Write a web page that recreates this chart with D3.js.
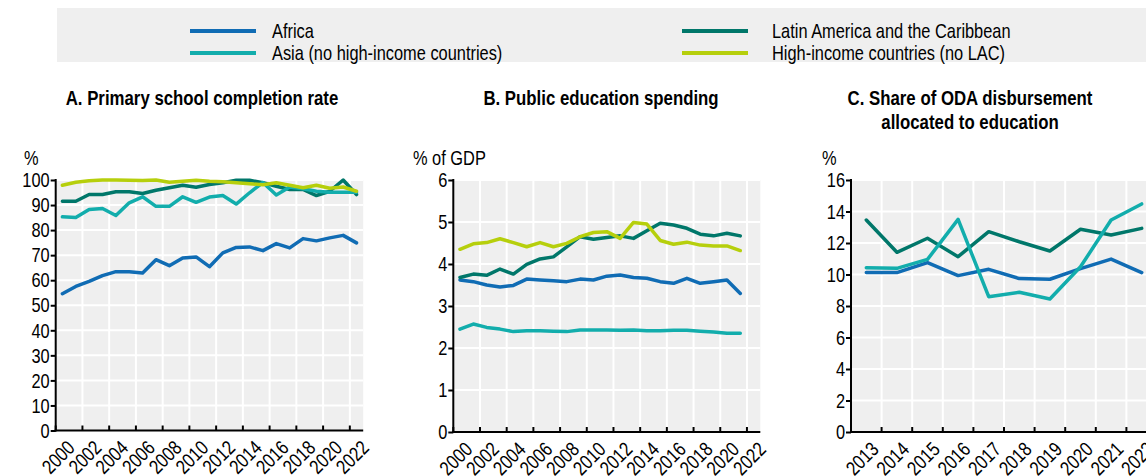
<!DOCTYPE html>
<html>
<head>
<meta charset="utf-8">
<script src="https://cdn.jsdelivr.net/npm/d3@7"></script>
<style>
  html, body { margin: 0; padding: 0; background: #fff; }
  svg { display: block; font-family: "Liberation Sans", Arial, sans-serif; }
</style>
</head>
<body>
<svg id="chart" width="1146" height="476"></svg>
<script>
// ---------- DATA ----------
const yearsAB = [2000,2001,2002,2003,2004,2005,2006,2007,2008,2009,2010,2011,2012,2013,2014,2015,2016,2017,2018,2019,2020,2021,2022];
const yearsB  = [2000,2001,2002,2003,2004,2005,2006,2007,2008,2009,2010,2011,2012,2013,2014,2015,2016,2017,2018,2019,2020,2021];
const yearsC  = [2013,2014,2015,2016,2017,2018,2019,2020,2021,2022];

const tickYearsAB = [2000,2002,2004,2006,2008,2010,2012,2014,2016,2018,2020,2022];
const tickYearsC  = [2013,2014,2015,2016,2017,2018,2019,2020,2021,2022];
const yTicksA = [0,10,20,30,40,50,60,70,80,90,100];
const yTicksB = [0,1,2,3,4,5,6];
const yTicksC = [0,2,4,6,8,10,12,14,16];

// Panel A: primary school completion rate (%)
const africaA = [54.6,57.5,59.5,61.8,63.4,63.4,62.9,68.2,65.8,68.9,69.3,65.4,70.9,73.1,73.3,71.8,74.6,72.9,76.6,75.7,76.9,77.9,74.9];
const asiaA   = [85.3,85.0,88.2,88.6,85.8,90.9,93.3,89.5,89.5,93.3,91.1,93.2,93.8,90.4,94.9,99.0,94.0,97.2,96.5,95.5,95.1,95.1,95.1];
const lacA    = [91.5,91.5,94.2,94.2,95.3,95.3,94.6,95.9,96.9,97.9,97.1,98.2,98.9,99.9,99.9,98.9,97.5,96.2,96.2,93.8,95.5,100.0,94.2];
const hiA     = [97.9,99.1,99.7,100.0,100.0,99.9,99.8,100.0,99.1,99.5,99.9,99.5,99.3,98.9,98.5,98.1,98.9,97.9,96.9,97.9,96.7,97.2,95.5];

// Panel B: public education spending (% of GDP)
const africaB = [3.62,3.58,3.50,3.45,3.49,3.64,3.62,3.60,3.58,3.64,3.62,3.71,3.74,3.68,3.66,3.58,3.54,3.66,3.54,3.58,3.62,3.30];
const asiaB   = [2.45,2.57,2.49,2.45,2.39,2.41,2.41,2.40,2.39,2.43,2.43,2.43,2.42,2.43,2.41,2.41,2.42,2.42,2.40,2.38,2.35,2.35];
const lacB    = [3.68,3.76,3.73,3.88,3.76,3.99,4.12,4.17,4.41,4.65,4.59,4.63,4.67,4.61,4.79,4.97,4.93,4.85,4.71,4.67,4.73,4.67];
const hiB     = [4.35,4.48,4.51,4.60,4.51,4.41,4.51,4.41,4.49,4.65,4.75,4.77,4.61,4.99,4.95,4.56,4.47,4.52,4.45,4.43,4.43,4.32];

// Panel C: share of ODA disbursement allocated to education (%)
const africaC = [10.12,10.12,10.75,9.93,10.33,9.74,9.70,10.37,10.98,10.12];
const asiaC   = [10.43,10.39,10.96,13.50,8.59,8.87,8.44,10.49,13.46,14.48];
const lacC    = [13.46,11.41,12.30,11.13,12.72,12.08,11.49,12.87,12.51,12.93];

const seriesColors = {
  "Africa": "#106cb4",
  "Latin America and the Caribbean": "#00776a",
  "Asia (no high-income countries)": "#12adac",
  "High-income countries (no LAC)": "#b6cf0c"
};

// ---------- CHART ----------
const svg = d3.select("#chart");
const FS = 20;      // condensed look: regular face squeezed horizontally
const FST = 20.5;
const SX = 0.82;

// text helper: condensed text anchored at (x, y), optional rotation
function txt(parent, x, y, str, o = {}) {
  const rot = o.rotate ? ` rotate(${o.rotate})` : "";
  const g = parent.append("g").attr("transform", `translate(${x},${y})${rot} scale(${SX},1)`);
  return g.append("text").attr("x", 0).attr("y", 0)
    .attr("font-size", o.size || FS)
    .attr("font-weight", o.bold ? "bold" : null)
    .attr("text-anchor", o.anchor || "start")
    .attr("dy", o.dy || null)
    .attr("fill", "#000").text(str);
}

// Legend
svg.append("rect").attr("x", 57).attr("y", 8).attr("width", 1146 - 57).attr("height", 54).attr("fill", "#efefef");
const legendItems = [
  {name: "Africa", x: 190, tx: 272, y: 31},
  {name: "Asia (no high-income countries)", x: 190, tx: 272, y: 53},
  {name: "Latin America and the Caribbean", x: 682, tx: 772, y: 31},
  {name: "High-income countries (no LAC)", x: 682, tx: 772, y: 53}
];
legendItems.forEach(it => {
  svg.append("line").attr("x1", it.x).attr("x2", it.x + 66).attr("y1", it.y).attr("y2", it.y)
    .attr("stroke", seriesColors[it.name]).attr("stroke-width", 4);
  txt(svg, it.tx, it.y + 7, it.name);
});

function panel(cfg) {
  const g = svg.append("g");
  const x = d3.scaleBand().domain(cfg.cats).range([cfg.x0, cfg.x1]).padding(0);
  const y = d3.scaleLinear().domain(cfg.ydom).range([cfg.yb, cfg.yt]);
  const bw = x.bandwidth();

  // title
  cfg.title.forEach((t, i) => txt(g, cfg.tx, 105 + i * 24, t, {bold: true, size: FST, anchor: "middle"}));
  // unit
  txt(g, cfg.ux, 165, cfg.unit);

  // background
  g.append("rect").attr("x", cfg.x0).attr("y", cfg.yt).attr("width", cfg.x1 - cfg.x0).attr("height", cfg.yb - cfg.yt).attr("fill", "#efefef");

  // grid
  g.selectAll(".vg").data(cfg.xticks.filter(d => d !== cfg.cats[0])).enter().append("line")
    .attr("x1", d => x(d)).attr("x2", d => x(d)).attr("y1", cfg.yt).attr("y2", cfg.yb)
    .attr("stroke", "#fff").attr("stroke-width", 2);
  g.selectAll(".hg").data(cfg.yticks.filter(d => d !== cfg.ydom[0])).enter().append("line")
    .attr("x1", cfg.x0).attr("x2", cfg.x1).attr("y1", d => y(d)).attr("y2", d => y(d))
    .attr("stroke", "#fff").attr("stroke-width", 2);

  // y axis (ticks via d3 axis, labels condensed)
  const ya = d3.axisLeft(y).tickValues(cfg.yticks).tickSize(5).tickFormat("");
  const yg = g.append("g").attr("transform", `translate(${cfg.x0},0)`).call(ya);
  yg.select(".domain").remove();
  yg.selectAll(".tick line").attr("stroke", "#000").attr("stroke-width", 2);
  cfg.yticks.forEach(v => txt(g, cfg.x0 - 6, y(v), d3.format("d")(v), {anchor: "end", dy: "0.36em"}));
  g.append("line").attr("x1", cfg.x0).attr("x2", cfg.x0).attr("y1", cfg.yt - 1).attr("y2", cfg.yb + 1)
    .attr("stroke", "#000").attr("stroke-width", 2);

  // x axis ticks (inward) and axis line
  g.selectAll(".xt").data(cfg.xticks).enter().append("line")
    .attr("x1", d => x(d)).attr("x2", d => x(d)).attr("y1", cfg.yb).attr("y2", cfg.yb - 5)
    .attr("stroke", "#000").attr("stroke-width", 2);
  g.append("line").attr("x1", cfg.x0 - 1).attr("x2", cfg.x1).attr("y1", cfg.yb).attr("y2", cfg.yb)
    .attr("stroke", "#000").attr("stroke-width", 2);
  cfg.xticks.forEach(d => txt(g, x(d) + bw / 2 + 3, cfg.yb + 8, String(d), {anchor: "end", rotate: -45, dy: "0.75em"}));

  // lines
  const line = d3.line().x(d => x(d.c) + bw / 2).y(d => y(d.v));
  cfg.series.forEach(s => {
    const pts = s.values.map((v, i) => ({c: s.cats[i], v}));
    g.append("path").datum(pts).attr("d", line).attr("fill", "none")
      .attr("stroke", seriesColors[s.name]).attr("stroke-width", 3.5)
      .attr("stroke-linejoin", "round").attr("stroke-linecap", "round");
  });
}

panel({
  cats: yearsAB, x0: 55.7, x1: 363.2, yt: 180, yb: 430.5, ydom: [0, 100],
  xticks: tickYearsAB, yticks: yTicksA,
  title: ["A. Primary school completion rate"], tx: 202, unit: "%", ux: 24,
  series: [
    {name: "Africa", cats: yearsAB, values: africaA},
    {name: "Latin America and the Caribbean", cats: yearsAB, values: lacA},
    {name: "Asia (no high-income countries)", cats: yearsAB, values: asiaA},
    {name: "High-income countries (no LAC)", cats: yearsAB, values: hiA}
  ]
});

panel({
  cats: yearsAB, x0: 453.3, x1: 760.3, yt: 180, yb: 432, ydom: [0, 6],
  xticks: tickYearsAB, yticks: yTicksB,
  title: ["B. Public education spending"], tx: 601, unit: "% of GDP", ux: 413,
  series: [
    {name: "Africa", cats: yearsB, values: africaB},
    {name: "Latin America and the Caribbean", cats: yearsB, values: lacB},
    {name: "Asia (no high-income countries)", cats: yearsB, values: asiaB},
    {name: "High-income countries (no LAC)", cats: yearsB, values: hiB}
  ]
});

panel({
  cats: yearsC, x0: 851, x1: 1157, yt: 180, yb: 432, ydom: [0, 16],
  xticks: tickYearsC, yticks: yTicksC,
  title: ["C. Share of ODA disbursement", "allocated to education"], tx: 970, unit: "%", ux: 822,
  series: [
    {name: "Africa", cats: yearsC, values: africaC},
    {name: "Latin America and the Caribbean", cats: yearsC, values: lacC},
    {name: "Asia (no high-income countries)", cats: yearsC, values: asiaC}
  ]
});
</script>
</body>
</html>
